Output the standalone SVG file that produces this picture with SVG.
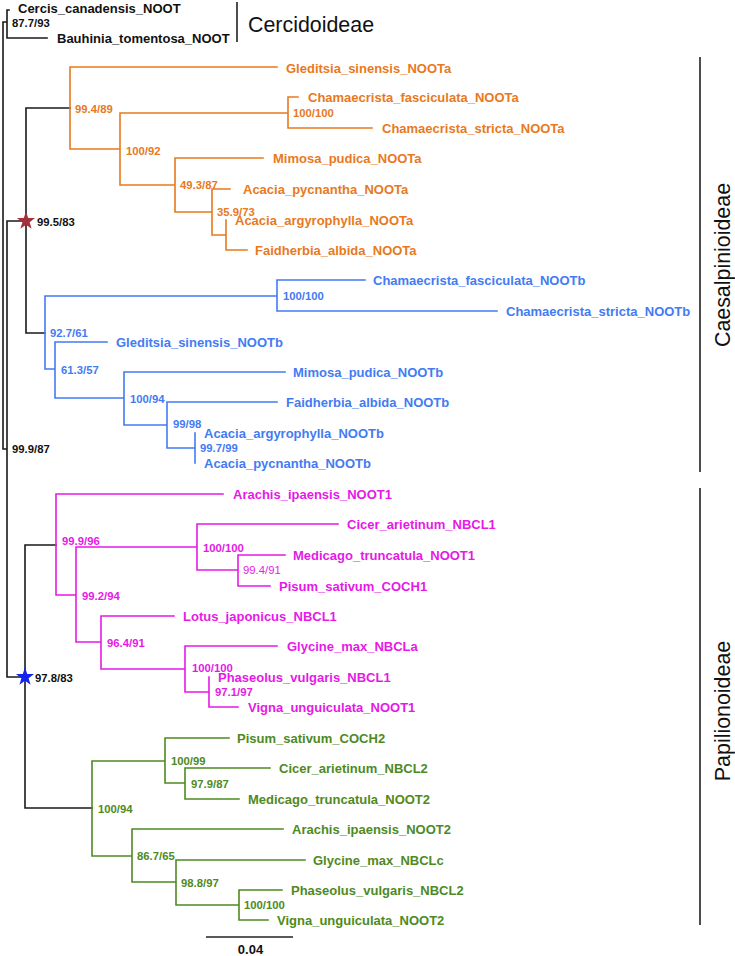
<svg xmlns="http://www.w3.org/2000/svg" width="735" height="956" viewBox="0 0 735 956">
<style>
.e{fill:none;stroke-width:1.6;stroke-linecap:square}
.k{stroke:#1a1a1a}.o{stroke:#E8791E}.b{stroke:#437BF3}.m{stroke:#E619E6}.g{stroke:#4E8A22}
text{font-family:"Liberation Sans",Arial,sans-serif}
.t{font-size:13px;font-weight:bold}
.s{font-size:11.3px;font-weight:bold}
.sr{font-size:11.3px}
.to{fill:#E8791E}.tb{fill:#437BF3}.tm{fill:#E619E6}.tg{fill:#4E8A22}.tk{fill:#111}
.c{font-size:21.4px;fill:#111}
.bar{stroke:#222;stroke-width:1.6;fill:none}
</style>
<defs>
<polygon id="star" points="0,-9.5 2.23,-3.07 9.04,-2.94 3.61,1.17 5.58,7.69 0,3.8 -5.58,7.69 -3.61,1.17 -9.04,-2.94 -2.23,-3.07"/>
</defs>
<rect width="735" height="956" fill="#fff"/>
<g id="connectors">
<path class="e k" d="M3,22V449M3,22H7M7,10V38M7,10H9M7,38H47M3,449H7M7,221V677M7,221H26M26,108V333M26,108H70M26,333H45M7,677H25M25,545V808M25,545H56M25,808H92"/>
<path class="e o" d="M70,67V149M70,67H277M70,149H120M120,113V185M120,113H288M288,97V128M288,97H298M288,128H372M120,185H175M175,158V212M175,158H263M175,212H212M212,189V235M212,189H230M212,235H226M226,220V250M226,250H247"/>
<path class="e b" d="M45,296V369M45,296H277M277,280V311M277,280H365M277,311H497M45,369H55M55,342V398M55,342H107M55,398H124M124,372V425M124,372H285M124,425H167M167,402V448M167,402H277M167,448H195M195,433V463"/>
<path class="e m" d="M56,494V595M56,494H223M56,595H76M76,547V642M76,547H197M197,524V570M197,524H338M197,570H238M238,555V586M238,555H285M238,586H270M76,642H101M101,616V669M101,616H174M101,669H185M185,646V692M185,646H277M185,692H209M209,677V707M209,707H238"/>
<path class="e g" d="M92,761V856M92,761H165M165,738V783M165,738H229M165,783H185M185,768V799M185,768H270M185,799H239M92,856H132M132,829V882M132,829H283M132,882H176M176,860V905M176,860H305M176,905H239M239,890V920M239,890H282M239,920H268"/>
<path class="bar" d="M206,937H293"/>
</g>
<g id="stars">
<use href="#star" x="26" y="221" fill="#A3303A"/>
<use href="#star" x="25" y="677" fill="#1424F0"/>
</g>
<g id="cercidoideae">
<text class="t tk" x="18" y="12.5">Cercis_canadensis_NOOT</text>
<text class="t tk" x="57" y="42.5">Bauhinia_tomentosa_NOOT</text>
<text class="s tk" x="12" y="27">87.7/93</text>
</g>
<g id="backbone-support">
<text class="s tk" x="37" y="226">99.5/83</text>
<text class="s tk" x="12" y="453">99.9/87</text>
<text class="s tk" x="35" y="682">97.8/83</text>
</g>
<g id="clade-NOOTa">
<text class="t to" x="286" y="72.5">Gleditsia_sinensis_NOOTa</text>
<text class="t to" x="308" y="102">Chamaecrista_fasciculata_NOOTa</text>
<text class="t to" x="382" y="133">Chamaecrista_stricta_NOOTa</text>
<text class="t to" x="273" y="163">Mimosa_pudica_NOOTa</text>
<text class="t to" x="243" y="194">Acacia_pycnantha_NOOTa</text>
<text class="t to" x="235" y="225">Acacia_argyrophylla_NOOTa</text>
<text class="t to" x="255" y="255">Faidherbia_albida_NOOTa</text>
<text class="s to" x="75" y="113">99.4/89</text>
<text class="s to" x="293" y="117">100/100</text>
<text class="s to" x="126" y="155">100/92</text>
<text class="s to" x="180" y="189">49.3/87</text>
<text class="s to" x="217" y="215.5">35.9/73</text>
</g>
<g id="clade-NOOTb">
<text class="t tb" x="373" y="285">Chamaecrista_fasciculata_NOOTb</text>
<text class="t tb" x="506" y="316">Chamaecrista_stricta_NOOTb</text>
<text class="t tb" x="116" y="347">Gleditsia_sinensis_NOOTb</text>
<text class="t tb" x="293" y="377">Mimosa_pudica_NOOTb</text>
<text class="t tb" x="286" y="407">Faidherbia_albida_NOOTb</text>
<text class="t tb" x="204" y="438">Acacia_argyrophylla_NOOTb</text>
<text class="t tb" x="204" y="468">Acacia_pycnantha_NOOTb</text>
<text class="s tb" x="283" y="300">100/100</text>
<text class="s tb" x="50" y="337">92.7/61</text>
<text class="s tb" x="61" y="374">61.3/57</text>
<text class="s tb" x="130" y="403">100/94</text>
<text class="s tb" x="173" y="428">99/98</text>
<text class="s tb" x="200" y="452">99.7/99</text>
</g>
<g id="clade-NOOT1">
<text class="t tm" x="233" y="499">Arachis_ipaensis_NOOT1</text>
<text class="t tm" x="347" y="529">Cicer_arietinum_NBCL1</text>
<text class="t tm" x="293" y="560">Medicago_truncatula_NOOT1</text>
<text class="t tm" x="279" y="591">Pisum_sativum_COCH1</text>
<text class="t tm" x="183" y="621">Lotus_japonicus_NBCL1</text>
<text class="t tm" x="287" y="651">Glycine_max_NBCLa</text>
<text class="t tm" x="218" y="682">Phaseolus_vulgaris_NBCL1</text>
<text class="t tm" x="248" y="712">Vigna_unguiculata_NOOT1</text>
<text class="s tm" x="62" y="545">99.9/96</text>
<text class="s tm" x="203" y="552">100/100</text>
<text class="sr tm" x="243" y="574">99.4/91</text>
<text class="s tm" x="82" y="600">99.2/94</text>
<text class="s tm" x="107" y="647">96.4/91</text>
<text class="s tm" x="192" y="672">100/100</text>
<text class="s tm" x="215" y="696">97.1/97</text>
</g>
<g id="clade-NOOT2">
<text class="t tg" x="237" y="743">Pisum_sativum_COCH2</text>
<text class="t tg" x="279" y="773">Cicer_arietinum_NBCL2</text>
<text class="t tg" x="248" y="804">Medicago_truncatula_NOOT2</text>
<text class="t tg" x="292" y="834">Arachis_ipaensis_NOOT2</text>
<text class="t tg" x="313" y="865">Glycine_max_NBCLc</text>
<text class="t tg" x="291" y="895">Phaseolus_vulgaris_NBCL2</text>
<text class="t tg" x="277" y="925">Vigna_unguiculata_NOOT2</text>
<text class="s tg" x="171" y="765">100/99</text>
<text class="s tg" x="191" y="788">97.9/87</text>
<text class="s tg" x="98" y="813">100/94</text>
<text class="s tg" x="137" y="859.5">86.7/65</text>
<text class="s tg" x="181" y="887">98.8/97</text>
<text class="s tg" x="244" y="909">100/100</text>
</g>
<g id="scale">
<text class="t tk" x="250.5" y="953.5" text-anchor="middle">0.04</text>
</g>
<g id="subfamilies">
<path class="bar" d="M237,2V42M700,57V472M700,488V925"/>
<text class="c" x="248" y="32">Cercidoideae</text>
<text class="c" transform="translate(729.5,265) rotate(-90)" text-anchor="middle">Caesalpinioideae</text>
<text class="c" transform="translate(729.5,711) rotate(-90)" text-anchor="middle">Papilionoideae</text>
</g>
</svg>
